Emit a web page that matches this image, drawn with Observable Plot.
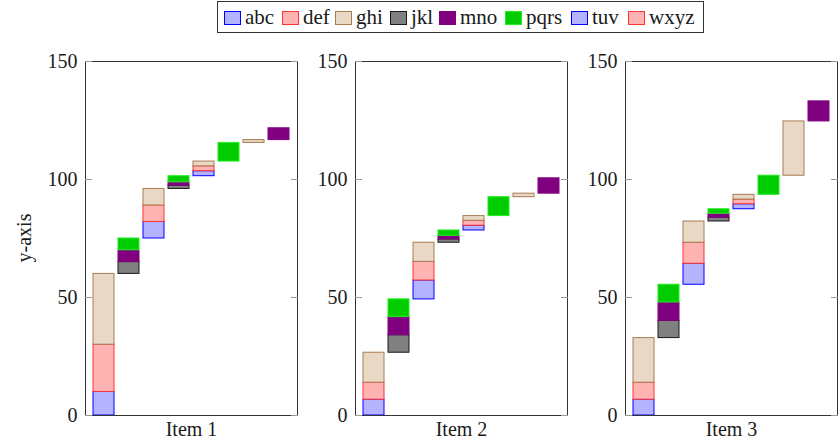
<!DOCTYPE html>
<html>
<head>
<meta charset="utf-8">
<script src="https://cdn.jsdelivr.net/npm/d3@7"></script>
<script src="https://cdn.jsdelivr.net/npm/@observablehq/plot@0.6"></script>
<style>
  html, body { margin: 0; padding: 0; background: white; }
  #wrap { position: relative; width: 840px; height: 444px; font-family: "Liberation Serif", serif; color: #1a1a1a; }
  #legend { position: absolute; left: 217px; top: 1px; width: 487px; height: 32px; border: 1px solid #333; background: white; box-sizing: border-box; }
  .entry { position: absolute; top: 0; height: 31px; display: flex; align-items: center; font-size: 21px; font-family: "Liberation Serif", serif; }
  .sw { width: 17px; height: 14px; box-sizing: border-box; border: 1.2px solid; margin-right: 4px; }
  #ylab { position: absolute; left: 24px; top: 238px; transform: translate(-50%, -50%) rotate(-90deg); font-size: 20px; white-space: nowrap; }
</style>
</head>
<body>
<div id="wrap">
  <div id="chart"></div>
  <div id="legend"></div>
  <div id="ylab">y-axis</div>
</div>
<script>
// ---- data ----
const items = ["Item 1", "Item 2", "Item 3"];
const seriesNames = ["abc", "def", "ghi", "jkl", "mno", "pqrs", "tuv", "wxyz"];
const fillColors   = ["#b3b3ff", "#ffb3b3", "#ead8c6", "#808080", "#800080", "#00cc00", "#b3b3ff", "#ffb3b3"];
const strokeColors = ["#0000ff", "#ff3333", "#a67c52", "#1a1a1a", "#800080", "#22ee22", "#0000ff", "#ff3333"];
// series stacked at each of the 8 steps of every item
const stepSeries = [
  ["abc", "def", "ghi"],
  ["jkl", "mno", "pqrs"],
  ["abc", "def", "ghi"],
  ["jkl", "mno", "pqrs"],
  ["tuv", "wxyz", "ghi"],
  ["pqrs"],
  ["ghi"],
  ["mno"]
];
// increments, per item, per step
const item1Values = [[10, 20, 30], [5, 5, 5], [7, 7, 7], [1.4, 1.4, 2.6], [2.1, 2.1, 2.0], [7.9], [1.2], [5.0]];
const item2Values = [[6.7, 7.2, 12.7], [7.4, 7.7, 7.5], [8.0, 7.9, 8.1], [1.4, 1.5, 2.3], [2.0, 2.1, 2.0], [8.0], [1.5], [6.5]];
const item3Values = [[6.7, 7.2, 18.9], [7.3, 7.8, 7.5], [8.9, 8.9, 9.0], [1.6, 1.7, 1.9], [2.1, 2.0, 2.0], [8.1], [23.0], [8.5]];
const yTicks = [0, 50, 100, 150];

// ---- build segments (waterfall: each segment starts where the previous ended) ----
const allValues = [item1Values, item2Values, item3Values];
const segments = [];
items.forEach((item, i) => {
  let total = 0;
  allValues[i].forEach((vals, step) => {
    vals.forEach((v, k) => {
      const s = stepSeries[step][k];
      const idx = seriesNames.indexOf(s);
      segments.push({item, step, series: s, y1: total, y2: total + v, fill: fillColors[idx], stroke: strokeColors[idx]});
      total += v;
    });
  });
});

const chart = Plot.plot({
  width: 840,
  height: 444,
  marginTop: 61,
  marginBottom: 29,
  marginLeft: 84,
  marginRight: 1,
  style: {fontFamily: "Liberation Serif, serif", fontSize: "20px", background: "white", color: "#1a1a1a"},
  fx: {domain: items, paddingInner: 0.214, paddingOuter: 0, label: null},
  x: {domain: d3.range(stepSeries.length), paddingInner: 0.17, paddingOuter: 0.277, axis: null},
  y: {domain: [0, 150], label: null},
  color: {type: "identity"},
  marks: [
    Plot.barY(segments, {fx: "item", x: "step", y1: "y1", y2: "y2", fill: "fill", stroke: "stroke", strokeWidth: 1}),
    Plot.frame({stroke: "#333", strokeWidth: 1}),
    Plot.axisY({ticks: yTicks, tickSize: 0, tickPadding: 8, facetAnchor: null, label: null, fontSize: 20}),
    Plot.axisY({ticks: yTicks, tickSize: 7, dx: 7, text: null, facetAnchor: null, label: null, stroke: "#999"}),
    Plot.axisY({anchor: "right", ticks: yTicks, tickSize: 7, dx: -7, text: null, facetAnchor: null, label: null, stroke: "#999"}),
    Plot.axisFx({anchor: "bottom", tickSize: 0, tickPadding: 6, label: null, fontSize: 20})
  ]
});
document.getElementById("chart").appendChild(chart);

// ---- legend ----
const legendX = [6, 64, 117, 172, 221, 287, 353, 410];
const legend = document.getElementById("legend");
seriesNames.forEach((s, i) => {
  const e = document.createElement("div");
  e.className = "entry";
  e.style.left = legendX[i] + "px";
  const sw = document.createElement("div");
  sw.className = "sw";
  sw.style.background = fillColors[i];
  sw.style.borderColor = strokeColors[i];
  const t = document.createElement("span");
  t.textContent = s;
  e.appendChild(sw);
  e.appendChild(t);
  legend.appendChild(e);
});
</script>
</body>
</html>
